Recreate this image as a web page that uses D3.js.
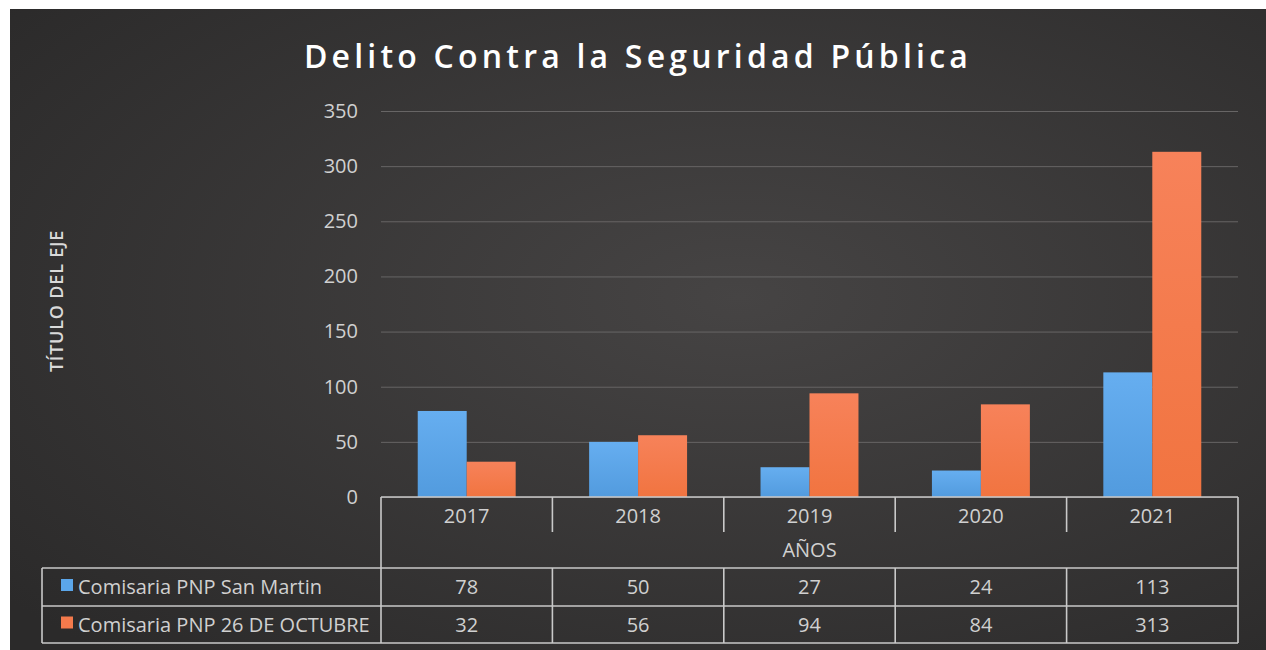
<!DOCTYPE html>
<html><head><meta charset="utf-8">
<script src="https://cdn.jsdelivr.net/npm/d3@7"></script>
<style>html,body{margin:0;padding:0;background:#fff;}svg{display:block;}</style>
</head><body>
<script>
const categories = ["2017","2018","2019","2020","2021"];
const seriesNames = ["Comisaria PNP San Martin","Comisaria PNP 26 DE OCTUBRE"];
const sanMartin = [78,50,27,24,113];
const octubre = [32,56,94,84,313];
const yTicks = [0,50,100,150,200,250,300,350];
const title = "Delito Contra la Seguridad Pública";
const yTitle = "TÍTULO DEL EJE";
const xTitle = "AÑOS";
const colors = ["#5ba6ea","#f47a4c"];

const W=1266,H=650;
const svg=d3.select("body").append("svg").attr("width",W).attr("height",H);
const defs=svg.append("defs");
const bg=defs.append("radialGradient").attr("id","bg").attr("cx","58%").attr("cy","45%").attr("r","75%");
bg.append("stop").attr("offset","0%").attr("stop-color","#464444");
bg.append("stop").attr("offset","100%").attr("stop-color","#2b2a2a");
const gB=defs.append("linearGradient").attr("id","gb").attr("x1",0).attr("y1",0).attr("x2",0).attr("y2",1);
gB.append("stop").attr("offset","0%").attr("stop-color","#66aef0");
gB.append("stop").attr("offset","100%").attr("stop-color","#529bde");
const gO=defs.append("linearGradient").attr("id","go").attr("x1",0).attr("y1",0).attr("x2",0).attr("y2",1);
gO.append("stop").attr("offset","0%").attr("stop-color","#f7825a");
gO.append("stop").attr("offset","100%").attr("stop-color","#f17440");
const fills=["url(#gb)","url(#go)"];

svg.append("rect").attr("x",10).attr("y",9).attr("width",W-10).attr("height",H-9).attr("fill","url(#bg)");

const L=381,R=1238,T=111,B=497;
const x=d3.scaleBand().domain(categories).range([L,R]).paddingInner(0).paddingOuter(0);
const x1=d3.scaleBand().domain([0,1]).range([0,x.bandwidth()]).paddingInner(0).paddingOuter(0.75);
const y=d3.scaleLinear().domain([0,350]).range([B,T]);

const tf="'Open Sans',sans-serif", tc="#d0d0d0", fs=20;

// gridlines
svg.append("g").attr("class","grid")
  .attr("transform",`translate(${L},0)`)
  .call(d3.axisLeft(y).tickValues(yTicks).tickSize(-(R-L)).tickFormat(""))
  .call(g=>g.select(".domain").remove())
  .call(g=>g.selectAll("line").attr("stroke","#676565").attr("stroke-width",1));

// y labels
svg.append("g").attr("transform",`translate(${L},0)`)
  .call(d3.axisLeft(y).tickValues(yTicks).tickSize(0).tickPadding(23))
  .call(g=>g.select(".domain").remove())
  .call(g=>g.selectAll("text").attr("fill",tc).attr("font-family",tf).attr("font-size",fs));

// bars
const series=[sanMartin,octubre];
series.forEach((vals,si)=>{
  svg.append("g").selectAll("rect").data(vals).join("rect")
    .attr("x",(d,i)=>x(categories[i])+x1(si))
    .attr("y",d=>y(d)).attr("width",x1.bandwidth()).attr("height",d=>y(0)-y(d))
    .attr("fill",fills[si]);
});

// title
svg.append("text").attr("x",638).attr("y",68).attr("text-anchor","middle")
  .attr("fill","#ffffff").attr("font-family",tf).attr("font-weight","600")
  .attr("font-size",32).attr("letter-spacing",4.2).text(title);

// y title
svg.append("text").attr("transform","translate(63,301) rotate(-90)").attr("text-anchor","middle")
  .attr("fill","#dadada").attr("font-family",tf).attr("font-weight","600")
  .attr("font-size",18).attr("letter-spacing",0.8).text(yTitle);

// data table
const lineC="#c9c9c9", lw=1.6;
const tbl=svg.append("g").attr("stroke",lineC).attr("stroke-width",lw).attr("fill","none");
const rowY=[497,568,606,643];
const LL=42;
tbl.append("line").attr("x1",L).attr("x2",R).attr("y1",B).attr("y2",B);
[568,606,643].forEach(yy=>tbl.append("line").attr("x1",LL).attr("x2",R).attr("y1",yy).attr("y2",yy));
tbl.append("line").attr("x1",LL).attr("x2",LL).attr("y1",568).attr("y2",643);
tbl.append("line").attr("x1",L).attr("x2",L).attr("y1",B).attr("y2",643);
tbl.append("line").attr("x1",R).attr("x2",R).attr("y1",B).attr("y2",643);
categories.slice(1).forEach(c=>{
  tbl.append("line").attr("x1",x(c)).attr("x2",x(c)).attr("y1",B).attr("y2",532);
  tbl.append("line").attr("x1",x(c)).attr("x2",x(c)).attr("y1",568).attr("y2",643);
});

svg.append("g").selectAll("text").data(categories).join("text")
  .attr("x",d=>x(d)+x.bandwidth()/2).attr("y",523).attr("text-anchor","middle")
  .attr("fill",tc).attr("font-family",tf).attr("font-size",fs).text(d=>d);
svg.append("text").attr("x",(L+R)/2).attr("y",557).attr("text-anchor","middle")
  .attr("fill",tc).attr("font-family",tf).attr("font-size",fs).text(xTitle);

series.forEach((vals,si)=>{
  const cy=(rowY[si+1]+rowY[si+2])/2;
  svg.append("g").selectAll("text").data(vals).join("text")
    .attr("x",(d,i)=>x(categories[i])+x.bandwidth()/2).attr("y",cy+7).attr("text-anchor","middle")
    .attr("fill",tc).attr("font-family",tf).attr("font-size",fs).text(d=>d);
  svg.append("rect").attr("x",61).attr("y",cy-8).attr("width",12).attr("height",12).attr("fill",colors[si]);
  svg.append("text").attr("x",78).attr("y",cy+7).attr("fill",tc).attr("font-family",tf)
    .attr("font-size",fs).text(seriesNames[si]);
});
</script>
</body></html>
